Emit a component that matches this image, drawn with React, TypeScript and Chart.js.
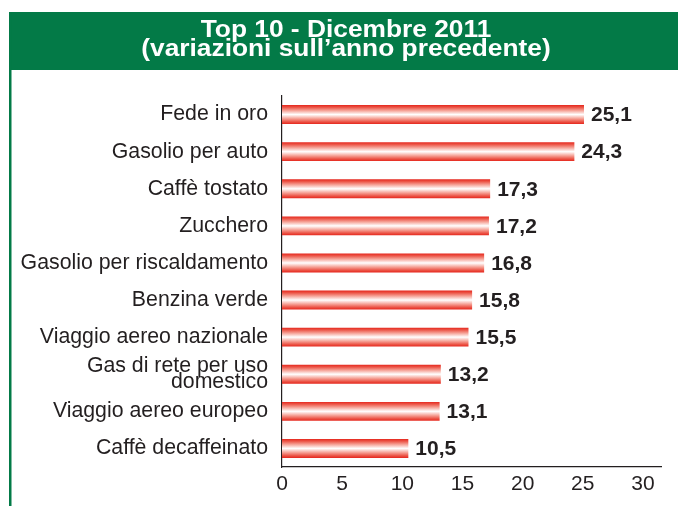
import React, { useEffect, useRef } from 'react';
import { Chart, registerables } from 'chart.js';

Chart.register(...registerables);

const categories: (string | string[])[] = [
  'Fede in oro',
  'Gasolio per auto',
  'Caffè tostato',
  'Zucchero',
  'Gasolio per riscaldamento',
  'Benzina verde',
  'Viaggio aereo nazionale',
  ['Gas di rete per uso', 'domestico'],
  'Viaggio aereo europeo',
  'Caffè decaffeinato',
];
const values = [25.1, 24.3, 17.3, 17.2, 16.8, 15.8, 15.5, 13.2, 13.1, 10.5];
const xTicks = [0, 5, 10, 15, 20, 25, 30];
const titleLines = ['Top 10 - Dicembre 2011', '(variazioni sull\u2019anno precedente)'];

const FONT = '"Liberation Sans", Arial, Helvetica, sans-serif';
const GREEN = '#037a47';
const TEXT = '#231f20';
const RED = '#e42a1f';

const fmt = (v: number) => v.toFixed(1).replace('.', ',');

const headerPlugin = {
  id: 'header',
  beforeDraw(chart: any) {
    const ctx = chart.ctx as CanvasRenderingContext2D;
    ctx.save();
    ctx.fillStyle = GREEN;
    ctx.fillRect(9, 12, chart.width - 9, 58);
    ctx.fillRect(9, 12, 2.5, chart.height - 12);
    ctx.fillStyle = '#ffffff';
    ctx.font = `bold 23.5px ${FONT}`;
    ctx.textAlign = 'center';
    ctx.textBaseline = 'alphabetic';
    titleLines.forEach((line, i) => {
      ctx.save();
      ctx.translate(346, 36.5 + i * 19.5);
      ctx.scale(1.12, 1);
      ctx.fillText(line, 0, 0);
      ctx.restore();
    });
    ctx.restore();
  },
};

const valueLabelPlugin = {
  id: 'valueLabels',
  afterDatasetsDraw(chart: any) {
    const ctx = chart.ctx as CanvasRenderingContext2D;
    const meta = chart.getDatasetMeta(0);
    ctx.save();
    ctx.fillStyle = TEXT;
    ctx.font = `bold 21px ${FONT}`;
    ctx.textAlign = 'left';
    ctx.textBaseline = 'middle';
    meta.data.forEach((bar: any, i: number) => {
      ctx.fillText(fmt(values[i]), bar.x + 7, bar.y + 1);
    });
    ctx.restore();
  },
};

export default function App() {
  const ref = useRef<HTMLCanvasElement | null>(null);

  useEffect(() => {
    document.body.style.margin = '0';
    const canvas = ref.current;
    if (!canvas) return;
    const chart = new Chart(canvas, {
      type: 'bar',
      data: {
        labels: categories,
        datasets: [
          {
            data: values,
            barPercentage: 0.51,
            categoryPercentage: 1,
            borderWidth: 0,
            backgroundColor: (c: any) => {
              const ch = c.chart;
              if (!ch.chartArea || c.type !== 'data') return RED;
              const cy = ch.scales.y.getPixelForValue(c.dataIndex);
              const half = 9.5;
              const g = ch.ctx.createLinearGradient(0, cy - half, 0, cy + half);
              g.addColorStop(0, '#e5261c');
              g.addColorStop(0.12, '#ec5547');
              g.addColorStop(0.3, '#f6a79c');
              g.addColorStop(0.5, '#ffffff');
              g.addColorStop(0.7, '#f6a79c');
              g.addColorStop(0.88, '#ec5547');
              g.addColorStop(1, '#e5261c');
              return g;
            },
          },
        ],
      },
      options: {
        indexAxis: 'y',
        animation: false,
        responsive: false,
        devicePixelRatio: 1,
        layout: { padding: { top: 96, right: 17, bottom: 0, left: 0 } },
        plugins: {
          legend: { display: false },
          tooltip: { enabled: false },
          title: { display: false },
        },
        scales: {
          x: {
            type: 'linear',
            min: 0,
            max: 31.5,
            afterBuildTicks: (s: any) => {
              s.ticks = xTicks.map((v) => ({ value: v }));
            },
            afterFit: (s: any) => {
              s.height = 39;
            },
            grid: { display: false, drawTicks: false },
            border: { display: true, color: TEXT, width: 1.2 },
            ticks: { padding: 5, color: TEXT, font: { family: FONT, size: 21 } },
          },
          y: {
            afterFit: (s: any) => {
              s.width = 282;
            },
            grid: { display: false, drawTicks: false },
            border: { display: true, color: TEXT, width: 1.2 },
            ticks: {
              padding: 14,
              color: TEXT,
              autoSkip: false,
              font: { family: FONT, size: 21.3, lineHeight: 0.76 },
            },
          },
        },
      },
      plugins: [headerPlugin, valueLabelPlugin],
    } as any);
    return () => chart.destroy();
  }, []);

  return (
    <div style={{ width: 678, height: 506 }}>
      <canvas ref={ref} width={678} height={506} />
    </div>
  );
}
